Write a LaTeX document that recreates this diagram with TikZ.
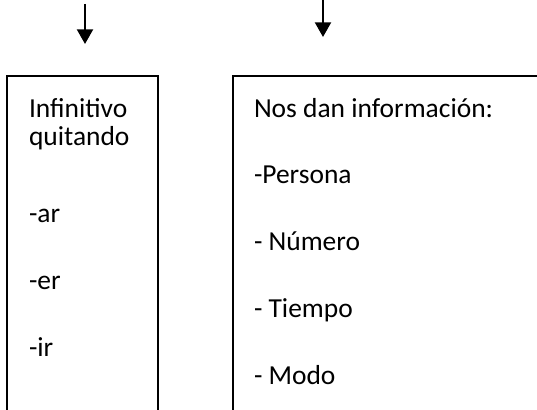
\documentclass[tikz,border=0pt]{standalone}
\usepackage{fontspec}
\setmainfont{Carlito}
\usetikzlibrary{arrows.meta}
\begin{document}
\begin{tikzpicture}[x=0.75pt,y=-0.75pt,line width=1.5pt]
\tikzstyle{every node}=[anchor=base west,inner sep=0pt,font=\fontsize{20.6}{24}\selectfont];
\tikzstyle{flecha}=[-{Triangle[width=12pt,length=11pt]},line width=1.6pt];
\useasboundingbox (0,0) rectangle (537,410);
% flechas
\coordinate (a1) at (85,4);
\coordinate (a2) at (85,44);
\coordinate (b1) at (323,0);
\coordinate (b2) at (323,37);
\draw[flecha] (a1) -- (a2);
\draw[flecha] (b1) -- (b2);
% cajas
\draw (7,410) |- (158,76) -- (158,410);
\draw (233,410) |- (537,76);
% caja izquierda
\node (inf) at (28,118) {Infinitivo};
\node (quit) at (28,146) {quitando};
\node (ar) at (28,223) {-ar};
\node (er) at (28,290) {-er};
\node (ir) at (28,357) {-ir};
% caja derecha
\node (nos) at (253,118) {Nos dan información:};
\node (per) at (253,184) {-Persona};
\node (num) at (253,251) {- Número};
\node (tie) at (253,318) {- Tiempo};
\node (mod) at (253,385) {- Modo};
\end{tikzpicture}
\end{document}
